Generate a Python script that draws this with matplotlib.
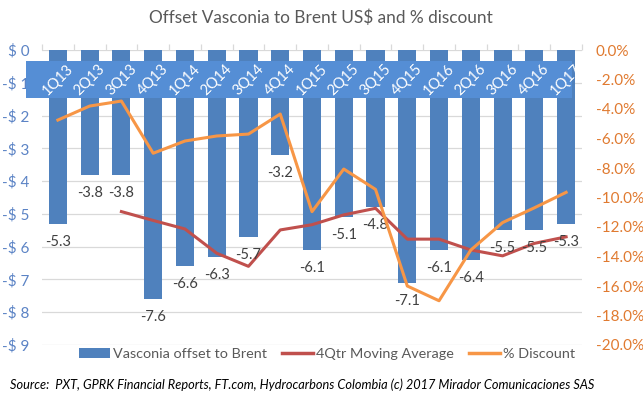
import matplotlib
matplotlib.use("Agg")
import matplotlib.pyplot as plt
import matplotlib.transforms as mtransforms
from matplotlib.patches import Patch, Rectangle
from matplotlib.lines import Line2D

plt.rcParams["font.family"] = ["Lato", "DejaVu Sans"]

quarters = ["1Q13", "2Q13", "3Q13", "4Q13", "1Q14", "2Q14", "3Q14", "4Q14",
            "1Q15", "2Q15", "3Q15", "4Q15", "1Q16", "2Q16", "3Q16", "4Q16", "1Q17"]
offset = [-5.3, -3.8, -3.8, -7.6, -6.6, -6.3, -5.7, -3.2,
          -6.1, -5.1, -4.8, -7.1, -6.1, -6.4, -5.5, -5.5, -5.3]
# moving average starts at 3Q13
ma_quarters = quarters[2:]
moving_avg = [-4.93, -5.2, -5.46, -6.2, -6.6, -5.49, -5.33,
              -5.03, -4.83, -5.77, -5.77, -6.1, -6.28, -5.9, -5.7]
discount = [-4.75, -3.8, -3.46, -7.0, -6.17, -5.83, -5.7, -4.34,
            -10.96, -8.07, -9.45, -16.0, -17.0, -13.56, -11.7, -10.7, -9.65]

BAR = "#4F81BD"
BAND = "#558ED5"
RED = "#C0504D"
ORANGE = "#F79646"
GREY = "#595959"

W, H = 643, 398
fig = plt.figure(figsize=(W / 100, H / 100), dpi=100)
ax = fig.add_axes([42 / W, (H - 345) / H, 540 / W, 295 / H])
ax2 = ax.twinx()

x = list(range(len(quarters)))
ax.bar(x, offset, width=0.57, color=BAR, zorder=2)
ma_x = x[2:]
ax.plot(ma_x, moving_avg, color=RED, lw=2.2, zorder=4)
ax2.plot(x, discount, color=ORANGE, lw=2.2, zorder=4)

for xi, v in zip(x, offset):
    ax.annotate(f"{v:.1f}", (xi, v), xytext=(0, -13), textcoords="offset points",
                ha="center", va="center", fontsize=10.5, color="#404040", zorder=5)

ax.set_xlim(-0.5, len(quarters) - 0.5)
ax.set_ylim(-9, 0)
ax2.set_ylim(-20, 0)
ax.set_yticks(range(0, -10, -1))
ax.set_yticklabels(["$ 0"] + [f"-$ {i}" for i in range(1, 10)])
ax2.set_yticks(range(0, -21, -2))
ax2.set_yticklabels([f"{v:.1f}%" for v in range(0, -21, -2)])
ax.yaxis.grid(True, color="#D9D9D9", lw=0.9, zorder=0)
ax.set_axisbelow(True)

ax.tick_params(axis="y", length=0, pad=9, labelsize=11, labelcolor="#5B83C5")
ax2.tick_params(axis="y", length=0, pad=10, labelsize=11, labelcolor="#E07A30")
ax.xaxis.tick_top()
ax.set_xticks([i - 0.5 for i in range(len(quarters) + 1)])
ax.set_xticklabels([])
ax.tick_params(axis="x", direction="out", length=4, color="#D9D9D9", width=0.9)
for a in (ax, ax2):
    for s in a.spines.values():
        s.set_visible(False)

# category band with rotated labels
band = Rectangle((26 / W, (H - 98) / H), 546 / W, 37 / H, transform=fig.transFigure,
                 facecolor=BAND, edgecolor="none", zorder=3, clip_on=False)
ax2.add_patch(band)
trans = mtransforms.blended_transform_factory(ax.transData, fig.transFigure)
for xi, q in zip(x, quarters):
    ax2.text(xi, (H - 80) / H, q, transform=trans, rotation=45, ha="center", va="center",
             color="white", fontsize=10.5, zorder=6)

fig.text(321 / W, 1 - 18 / H, "Offset Vasconia to Brent US$ and % discount",
         ha="center", va="center", fontsize=12.4, color=GREY)

handles = [Patch(facecolor=BAR), Line2D([], [], color=RED, lw=2.5),
           Line2D([], [], color=ORANGE, lw=2.5)]
labels = ["Vasconia offset to Brent", "4Qtr Moving Average", "% Discount"]
fig.legend(handles, labels, loc="center", bbox_to_anchor=(327 / W, 1 - 354 / H), ncol=3,
           frameon=False, fontsize=10.4, labelcolor=GREY, handlelength=2.2,
           handletextpad=0.2, columnspacing=1.0)

fig.text(10 / W, 1 - 385 / H,
         "Source:  PXT, GPRK Financial Reports, FT.com, Hydrocarbons Colombia (c) 2017 Mirador Comunicaciones SAS",
         ha="left", va="center", fontsize=9.2, style="italic", color="#000000")

fig.savefig("out.png", dpi=100)
